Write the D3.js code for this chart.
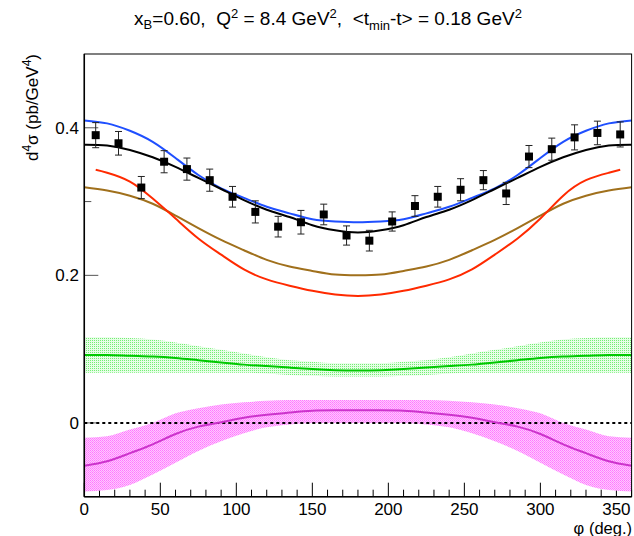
<!DOCTYPE html>
<html>
<head>
<meta charset="utf-8">
<script src="https://cdn.jsdelivr.net/npm/d3@7"></script>
<style>
  body { margin: 0; background: #fff; }
  text { font-family: "Liberation Sans", Arial, sans-serif; fill: #000; }
</style>
</head>
<body>
<div id="chart"></div>
<script>
// == DATA == //
// measured points (phi in deg, cross section, stat. error)
const phiData = [7.5, 22.5, 37.5, 52.5, 67.5, 82.5, 97.5, 112.5, 127.5, 142.5, 157.5, 172.5,
    187.5, 202.5, 217.5, 232.5, 247.5, 262.5, 277.5, 292.5, 307.5, 322.5, 337.5, 352.5];
const xsData = [0.390, 0.379, 0.319, 0.354, 0.344, 0.329, 0.3065, 0.286, 0.266, 0.272, 0.2825, 0.254,
    0.247, 0.273, 0.294, 0.3065, 0.316, 0.329, 0.311, 0.361, 0.371, 0.387, 0.393, 0.391];
const errData = [0.017, 0.016, 0.015, 0.015, 0.015, 0.015, 0.014, 0.015, 0.014, 0.016, 0.014, 0.013,
    0.014, 0.013, 0.014, 0.014, 0.015, 0.013, 0.015, 0.015, 0.015, 0.017, 0.016, 0.017];

// model curves on a 15 deg grid
const phiGrid = [0, 15, 30, 45, 60, 75, 90, 105, 120, 135, 150, 165, 180,
    195, 210, 225, 240, 255, 270, 285, 300, 315, 330, 345, 360];
const blueCurve = [0.410, 0.406, 0.396, 0.381, 0.359, 0.336, 0.318, 0.305, 0.293, 0.284, 0.276, 0.273, 0.272,
    0.273, 0.276, 0.284, 0.293, 0.305, 0.318, 0.336, 0.359, 0.381, 0.396, 0.406, 0.410];
const blackCurve = [0.377, 0.376, 0.370, 0.360, 0.347, 0.332, 0.317, 0.302, 0.289, 0.279, 0.268, 0.261, 0.258,
    0.261, 0.268, 0.279, 0.289, 0.302, 0.317, 0.332, 0.347, 0.360, 0.370, 0.376, 0.377];
const brownCurve = [0.3195, 0.315, 0.308, 0.297, 0.281, 0.264, 0.248, 0.234, 0.221, 0.212, 0.206, 0.201, 0.200,
    0.201, 0.206, 0.212, 0.221, 0.234, 0.248, 0.264, 0.281, 0.297, 0.308, 0.315, 0.3195];

// red curve only spans the data range
const phiRed = [7.5, 15, 30, 45, 60, 75, 90, 105, 120, 135, 150, 165, 180,
    195, 210, 225, 240, 255, 270, 285, 300, 315, 330, 345, 352.5];
const redCurve = [0.343, 0.339, 0.327, 0.304, 0.277, 0.250, 0.228, 0.208, 0.1945, 0.186, 0.179, 0.174, 0.172,
    0.174, 0.179, 0.186, 0.1945, 0.208, 0.228, 0.250, 0.277, 0.308, 0.329, 0.339, 0.343];

// green term + band
const greenCurve = [0.092, 0.092, 0.091, 0.090, 0.088, 0.085, 0.082, 0.079, 0.077, 0.075, 0.073, 0.0715, 0.071,
    0.0715, 0.073, 0.075, 0.077, 0.079, 0.082, 0.085, 0.088, 0.090, 0.091, 0.092, 0.092];
const greenHi = [0.116, 0.116, 0.115, 0.113, 0.109, 0.104, 0.099, 0.094, 0.089, 0.085, 0.083, 0.081, 0.081,
    0.081, 0.083, 0.085, 0.089, 0.094, 0.099, 0.104, 0.109, 0.113, 0.115, 0.116, 0.116];
const greenLo = [0.068, 0.068, 0.068, 0.068, 0.068, 0.068, 0.068, 0.068, 0.067, 0.065, 0.064, 0.063, 0.063,
    0.063, 0.064, 0.065, 0.067, 0.068, 0.068, 0.068, 0.068, 0.068, 0.068, 0.068, 0.068];

// magenta term + band
const magentaCurve = [-0.058, -0.052, -0.041, -0.029, -0.015, -0.005, 0.001, 0.007, 0.011, 0.014, 0.0165, 0.017, 0.017,
    0.017, 0.0165, 0.014, 0.011, 0.007, 0.001, -0.005, -0.015, -0.029, -0.041, -0.052, -0.058];
const magentaHi = [-0.020, -0.018, -0.009, 0.000, 0.013, 0.020, 0.025, 0.028, 0.030, 0.031, 0.031, 0.031, 0.031,
    0.031, 0.031, 0.031, 0.030, 0.028, 0.025, 0.020, 0.013, 0.000, -0.009, -0.018, -0.020];
const magentaLo = [-0.093, -0.091, -0.084, -0.070, -0.054, -0.038, -0.025, -0.014, -0.006, -0.002, 0.000, 0.000, 0.000,
    0.000, 0.000, -0.002, -0.006, -0.014, -0.025, -0.038, -0.054, -0.070, -0.084, -0.091, -0.093];

const xTicks = [0, 50, 100, 150, 200, 250, 300, 350];
const yTicks = [0, 0.2, 0.4];

// == SVG == //
const width = 634, height = 536;

const svg = d3.select("#chart").append("svg")
    .attr("width", width)
    .attr("height", height);

const x = d3.scaleLinear().domain([0, 360]).range([84.3, 631.6]);
const y = d3.scaleLinear().domain([-0.1, 0.5]).range([496.7, 54]);

// fill patterns for the bands (ROOT-like dotted fill)
const defs = svg.append("defs");
const greenPat = defs.append("pattern").attr("id", "greenPat")
    .attr("width", 2).attr("height", 2).attr("patternUnits", "userSpaceOnUse");
greenPat.append("rect").attr("width", 2).attr("height", 2).attr("fill", "#e6fee6");
greenPat.append("rect").attr("width", 1).attr("height", 1).attr("fill", "#74ee74");
const magPat = defs.append("pattern").attr("id", "magPat")
    .attr("width", 2).attr("height", 2).attr("patternUnits", "userSpaceOnUse");
magPat.append("rect").attr("width", 2).attr("height", 2).attr("fill", "#ffc8ff");
magPat.append("rect").attr("width", 1).attr("height", 1).attr("fill", "#ff78ff");
magPat.append("rect").attr("x", 1).attr("y", 1).attr("width", 1).attr("height", 1).attr("fill", "#ff8cff");

// == AXES (drawn first, the bands cover the ticks) == //
const axisG = svg.append("g");
const xMinor = d3.range(0, 361, 10);
axisG.selectAll(".xt").data(xMinor).enter().append("line")
    .attr("x1", d => x(d)).attr("x2", d => x(d))
    .attr("y1", y(-0.1)).attr("y2", d => y(-0.1) - (d % 50 === 0 ? 14 : 7))
    .attr("stroke", "#000").attr("stroke-width", 1);
const yMinor = [0, 0.1, 0.2, 0.3, 0.4];
axisG.selectAll(".yt").data(yMinor).enter().append("line")
    .attr("x1", x(0)).attr("x2", d => x(0) + (yTicks.includes(d) ? 14 : 7))
    .attr("y1", d => y(d)).attr("y2", d => y(d))
    .attr("stroke", "#555").attr("stroke-width", 1);

axisG.selectAll(".xl").data(xTicks).enter().append("text")
    .attr("x", d => x(d)).attr("y", 515)
    .attr("text-anchor", "middle")
    .style("font-size", "17px")
    .text(d => d);
axisG.selectAll(".yl").data(yTicks).enter().append("text")
    .attr("x", 79).attr("y", d => y(d) + 6)
    .attr("text-anchor", "end")
    .style("font-size", "17px")
    .text(d => d === 0 ? "0" : d.toFixed(1));

// == BANDS == //
const area = (lo, hi) => d3.area()
    .x((d, i) => x(phiGrid[i]))
    .y0((d, i) => y(lo[i]))
    .y1((d, i) => y(hi[i]))
    .curve(d3.curveMonotoneX)(phiGrid);

svg.append("path").attr("d", area(greenLo, greenHi)).attr("fill", "url(#greenPat)");
svg.append("path").attr("d", area(magentaLo, magentaHi)).attr("fill", "url(#magPat)");

// zero line
svg.append("line")
    .attr("x1", x(0)).attr("x2", x(360))
    .attr("y1", y(0)).attr("y2", y(0))
    .attr("stroke", "#000").attr("stroke-width", 2)
    .attr("stroke-dasharray", "3,3");

// == CURVES == //
const drawCurve = (phis, vals, color) => {
    const line = d3.line()
        .x((d, i) => x(phis[i]))
        .y((d, i) => y(vals[i]))
        .curve(d3.curveNatural);
    svg.append("path")
        .attr("d", line(phis))
        .attr("fill", "none")
        .attr("stroke", color)
        .attr("stroke-width", 2);
};
drawCurve(phiGrid, greenCurve, "#00c800");
drawCurve(phiGrid, magentaCurve, "#cc33cc");
drawCurve(phiGrid, brownCurve, "#a0701c");
drawCurve(phiRed, redCurve, "#ff2a00");
drawCurve(phiGrid, blueCurve, "#1f4fff");
drawCurve(phiGrid, blackCurve, "#000000");

// == DATA POINTS == //
const pts = svg.append("g");
phiData.forEach((p, i) => {
    const cx = x(p), top = y(xsData[i] + errData[i]), bot = y(xsData[i] - errData[i]);
    pts.append("line").attr("x1", cx).attr("x2", cx).attr("y1", top).attr("y2", bot)
        .attr("stroke", "#222").attr("stroke-width", 1);
    [top, bot].forEach(yy => pts.append("line")
        .attr("x1", cx - 3.5).attr("x2", cx + 3.5).attr("y1", yy).attr("y2", yy)
        .attr("stroke", "#222").attr("stroke-width", 1));
    pts.append("rect")
        .attr("x", cx - 4).attr("y", y(xsData[i]) - 4)
        .attr("width", 8).attr("height", 8)
        .attr("fill", "#000");
});

// == FRAME == //
svg.append("rect")
    .attr("x", x(0)).attr("y", y(0.5))
    .attr("width", x(360) - x(0)).attr("height", y(-0.1) - y(0.5))
    .attr("fill", "none").attr("stroke", "#000").attr("stroke-width", 1);
svg.append("line").attr("x1", x(0)).attr("x2", x(0)).attr("y1", y(0.5)).attr("y2", y(-0.1))
    .attr("stroke", "#000").attr("stroke-width", 1.5);
svg.append("line").attr("x1", x(0)).attr("x2", x(360)).attr("y1", y(-0.1)).attr("y2", y(-0.1))
    .attr("stroke", "#000").attr("stroke-width", 1.5);

// == TITLES == //
const sp = "\u00a0";
const title = svg.append("text")
    .attr("x", 328).attr("y", 25)
    .attr("text-anchor", "middle")
    .style("font-size", "19px");
title.append("tspan").text("x");
title.append("tspan").attr("dy", 4).style("font-size", "13px").text("B");
title.append("tspan").attr("dy", -4).text("=0.60," + sp + sp + "Q");
title.append("tspan").attr("dy", -7).style("font-size", "13px").text("2");
title.append("tspan").attr("dy", 7).text(" = 8.4 GeV");
title.append("tspan").attr("dy", -7).style("font-size", "13px").text("2");
title.append("tspan").attr("dy", 7).text("," + sp + sp + "<t");
title.append("tspan").attr("dy", 5).style("font-size", "13px").text("min");
title.append("tspan").attr("dy", -5).text("-t> = 0.18 GeV");
title.append("tspan").attr("dy", -7).style("font-size", "13px").text("2");

const yTitle = svg.append("text")
    .attr("transform", "translate(38, 54) rotate(-90)")
    .attr("text-anchor", "end")
    .style("font-size", "17px");
yTitle.append("tspan").text("d");
yTitle.append("tspan").attr("dy", -7).style("font-size", "12px").text("4");
yTitle.append("tspan").attr("dy", 7).text("σ (pb/GeV");
yTitle.append("tspan").attr("dy", -7).style("font-size", "12px").text("4");
yTitle.append("tspan").attr("dy", 7).text(")");

svg.append("text")
    .attr("x", 632).attr("y", 534)
    .attr("text-anchor", "end")
    .style("font-size", "16.5px")
    .text("φ (deg.)");
</script>
</body>
</html>
